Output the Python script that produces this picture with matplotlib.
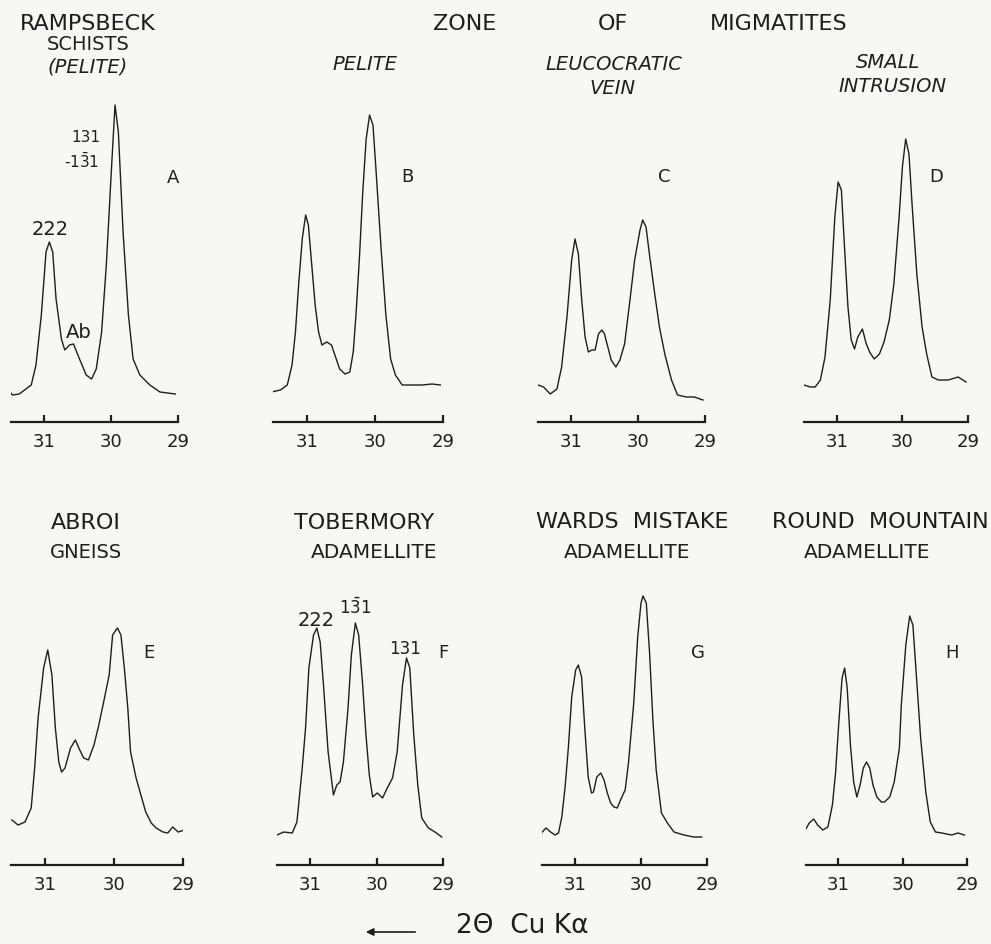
import matplotlib
matplotlib.use("Agg")
import matplotlib.pyplot as plt

# 2-theta positions (deg) and relative intensity
a_2t = [31.53, 31.47, 31.37, 31.19, 31.12, 31.04, 30.97, 30.92, 30.87, 30.82, 30.74, 30.69, 30.62, 30.56,
        30.47, 30.37, 30.29, 30.22, 30.14, 30.07, 29.99, 29.94, 29.89, 29.82, 29.74, 29.67, 29.57, 29.42,
        29.27, 29.04]
a_int = [32, 27, 28, 37, 57, 107, 170, 180, 170, 123, 83, 72, 77, 78,
         63, 47, 43, 53, 90, 157, 257, 317, 290, 190, 107, 63, 47, 37,
         30, 28]

b_2t = [31.52, 31.39, 31.29, 31.22, 31.17, 31.12, 31.07, 31.02, 30.98, 30.93, 30.88, 30.83, 30.78, 30.71,
        30.64, 30.59, 30.52, 30.44, 30.37, 30.32, 30.28, 30.23, 30.18, 30.13, 30.08, 30.03, 29.99, 29.91,
        29.84, 29.77, 29.70, 29.60, 29.46, 29.31, 29.16, 29.04]
b_int = [30, 32, 37, 57, 90, 140, 183, 207, 197, 157, 117, 90, 77, 80,
         77, 67, 53, 48, 50, 70, 107, 163, 230, 283, 307, 297, 257, 173,
         107, 63, 47, 37, 37, 37, 38, 37]

c_2t = [31.53, 31.41, 31.31, 31.21, 31.14, 31.06, 30.99, 30.94, 30.89, 30.84, 30.79, 30.74, 30.69, 30.64,
        30.59, 30.54, 30.50, 30.45, 30.40, 30.33, 30.27, 30.20, 30.12, 30.05, 29.97, 29.93, 29.88, 29.83,
        29.75, 29.68, 29.60, 29.50, 29.41, 29.28, 29.16, 29.03]
c_int = [38, 35, 28, 33, 55, 105, 162, 183, 168, 122, 85, 70, 72, 72,
         88, 92, 88, 75, 62, 55, 62, 78, 122, 162, 192, 202, 195, 168,
         128, 95, 68, 42, 27, 25, 25, 22]

d_2t = [31.50, 31.40, 31.33, 31.25, 31.18, 31.10, 31.03, 30.98, 30.93, 30.88, 30.83, 30.78, 30.73, 30.68,
        30.61, 30.55, 30.50, 30.43, 30.35, 30.28, 30.20, 30.13, 30.05, 30.00, 29.95, 29.90, 29.85, 29.78,
        29.70, 29.63, 29.55, 29.45, 29.30, 29.15, 29.03]
d_int = [37, 35, 35, 42, 65, 122, 205, 240, 232, 172, 115, 82, 73, 85,
         93, 78, 70, 63, 68, 80, 102, 138, 205, 255, 283, 268, 215, 148,
         95, 68, 45, 42, 42, 45, 40]

e_2t = [31.48, 31.39, 31.29, 31.20, 31.15, 31.10, 31.02, 30.96, 30.90, 30.85, 30.80, 30.76, 30.71, 30.63,
        30.56, 30.51, 30.44, 30.37, 30.29, 30.22, 30.15, 30.07, 30.02, 29.95, 29.90, 29.85, 29.80, 29.76,
        29.68, 29.61, 29.54, 29.46, 29.39, 29.29, 29.22, 29.15, 29.07, 28.98]
e_int = [45, 40, 43, 57, 97, 147, 197, 215, 190, 137, 103, 93, 97, 117,
         125, 117, 107, 105, 120, 140, 163, 190, 230, 237, 230, 197, 157, 113,
         87, 70, 53, 42, 37, 33, 32, 38, 33, 35]

f_2t = [31.50, 31.40, 31.27, 31.20, 31.12, 31.07, 31.02, 30.95, 30.90, 30.85, 30.80, 30.73, 30.65, 30.60,
        30.55, 30.50, 30.43, 30.38, 30.32, 30.27, 30.21, 30.16, 30.11, 30.06, 29.99, 29.91, 29.84, 29.76,
        29.69, 29.61, 29.55, 29.50, 29.44, 29.38, 29.32, 29.22, 29.12, 29.02]
f_int = [30, 33, 32, 43, 97, 137, 197, 230, 237, 223, 180, 113, 70, 80,
         83, 103, 157, 210, 242, 230, 180, 130, 90, 68, 72, 67, 77, 87,
         113, 180, 207, 197, 130, 80, 47, 37, 33, 28]

g_2t = [31.51, 31.44, 31.37, 31.30, 31.25, 31.20, 31.15, 31.10, 31.05, 30.99, 30.95, 30.90, 30.85, 30.80,
        30.75, 30.72, 30.67, 30.61, 30.56, 30.51, 30.46, 30.41, 30.36, 30.31, 30.24, 30.19, 30.11, 30.05,
        30.00, 29.97, 29.92, 29.87, 29.82, 29.77, 29.69, 29.60, 29.50, 29.35, 29.20, 29.08]
g_int = [32, 37, 33, 30, 32, 48, 78, 118, 168, 195, 200, 188, 135, 88,
         72, 73, 88, 92, 85, 72, 62, 58, 57, 65, 75, 102, 162, 228,
         262, 269, 262, 212, 145, 95, 52, 42, 33, 30, 28, 28]

h_2t = [31.51, 31.45, 31.38, 31.32, 31.24, 31.16, 31.09, 31.04, 30.99, 30.94, 30.90, 30.86, 30.81, 30.76,
        30.71, 30.66, 30.61, 30.56, 30.51, 30.46, 30.40, 30.33, 30.28, 30.20, 30.13, 30.05, 30.02, 29.95,
        29.89, 29.84, 29.79, 29.72, 29.64, 29.57, 29.49, 29.39, 29.24, 29.14, 29.04]
h_int = [35, 42, 46, 40, 35, 38, 60, 93, 143, 187, 197, 177, 120, 83,
         68, 80, 97, 103, 97, 80, 68, 63, 63, 68, 83, 117, 160, 220,
         249, 240, 193, 127, 73, 43, 33, 32, 30, 32, 30]

letters = ["A", "B", "C", "D", "E", "F", "G", "H"]
tick_vals = [31, 30, 29]
tick_labels = ["31", "30", "29"]

traces = [(a_2t, a_int), (b_2t, b_int), (c_2t, c_int), (d_2t, d_int),
          (e_2t, e_int), (f_2t, f_int), (g_2t, g_int), (h_2t, h_int)]

W, H = 991, 945
ink = "#1e1e1e"
bg = "#f7f7f5"

fig = plt.figure(figsize=(W / 100, H / 100), dpi=100, facecolor=bg)

# pixel extent of each scale bar (31.5 -> 29.0) and its baseline row
spans = [(10.5, 178), (273, 443), (537.5, 705), (804, 968),
         (10.5, 183), (277, 443), (542, 707), (806, 967)]
base_rows = [423, 423, 423, 423, 866, 866, 866, 866]
# letter placement in data coords (2theta, intensity)
letter_pos = [(29.07, 245), (29.53, 246), (29.61, 246), (29.49, 246),
              (29.49, 213), (29.00, 213), (29.14, 213), (29.23, 213)]

axes = []
for i in range(8):
    x0, x1 = spans[i]
    yb = base_rows[i]
    ax = fig.add_axes([x0 / W, 1 - yb / H, (x1 - x0) / W, 330 / H])
    ax.set_facecolor("none")
    x, y = traces[i]
    ax.plot(x, y, color=ink, lw=1.0, solid_joinstyle="round")
    ax.set_xlim(31.5, 29.0)
    ax.set_ylim(0, 330)
    for s in ["top", "right", "left"]:
        ax.spines[s].set_visible(False)
    ax.spines["bottom"].set_linewidth(1.6)
    ax.spines["bottom"].set_color(ink)
    ax.set_yticks([])
    ax.set_xticks(tick_vals)
    ax.set_xticklabels(tick_labels)
    ax.tick_params(axis="x", direction="in", length=5, width=1.6, color=ink,
                   pad=7, labelsize=13, labelcolor=ink)
    lx, ly = letter_pos[i]
    ax.text(lx, ly, letters[i], fontsize=13, color=ink, ha="center", va="center")
    axes.append(ax)

# peak indices
ax = axes[0]
ax.text(30.91, 193, "222", fontsize=14, color=ink, ha="center", va="center")
ax.text(30.48, 90, "Ab", fontsize=14, color=ink, ha="center", va="center")
ax.text(30.37, 285, "131", fontsize=11, color=ink, ha="center", va="center")
ax.text(30.44, 262, r"-$\mathregular{1\bar{3}1}$", fontsize=11, color=ink, ha="center", va="center")

ax = axes[5]
ax.text(30.91, 246, "222", fontsize=14, color=ink, ha="center", va="center")
ax.text(30.32, 258, r"$\mathregular{1\bar{3}1}$", fontsize=12, color=ink, ha="center", va="center")
ax.text(29.57, 217, "131", fontsize=12, color=ink, ha="center", va="center")


def ftext(px, py, s, size=14, style="normal"):
    fig.text(px / W, 1 - py / H, s, fontsize=size, style=style, color=ink,
             ha="center", va="center")


# top row headings
ftext(88, 24, "RAMPSBECK", 16)
ftext(88, 44, "SCHISTS", 14)
ftext(88, 67, "(PELITE)", 14, "italic")
ftext(465, 24, "ZONE", 16)
ftext(613, 24, "OF", 16)
ftext(779, 24, "MIGMATITES", 16)
ftext(365, 65, "PELITE", 14, "italic")
ftext(614, 64, "LEUCOCRATIC", 14, "italic")
ftext(613, 88, "VEIN", 14, "italic")
ftext(888, 63, "SMALL", 14, "italic")
ftext(893, 86, "INTRUSION", 14, "italic")

# bottom row headings
ftext(86, 523, "ABROI", 16)
ftext(86, 552, "GNEISS", 14)
ftext(364, 523, "TOBERMORY", 16)
ftext(374, 552, "ADAMELLITE", 14.5)
ftext(632, 522, "WARDS  MISTAKE", 16)
ftext(627, 552, "ADAMELLITE", 14.5)
ftext(880, 522, "ROUND  MOUNTAIN", 16)
ftext(867, 552, "ADAMELLITE", 14.5)

# x-axis caption with arrow
fig.patches.append(matplotlib.patches.FancyArrowPatch(
    (418 / W, 1 - 933 / H), (363 / W, 1 - 933 / H), transform=fig.transFigure,
    arrowstyle="-|>", mutation_scale=11, color=ink, lw=1.2))
fig.text(456 / W, 1 - 926 / H, "2Θ  Cu K\u03b1", fontsize=19, color=ink, ha="left", va="center")

fig.savefig("out.png", dpi=100, facecolor=bg)
